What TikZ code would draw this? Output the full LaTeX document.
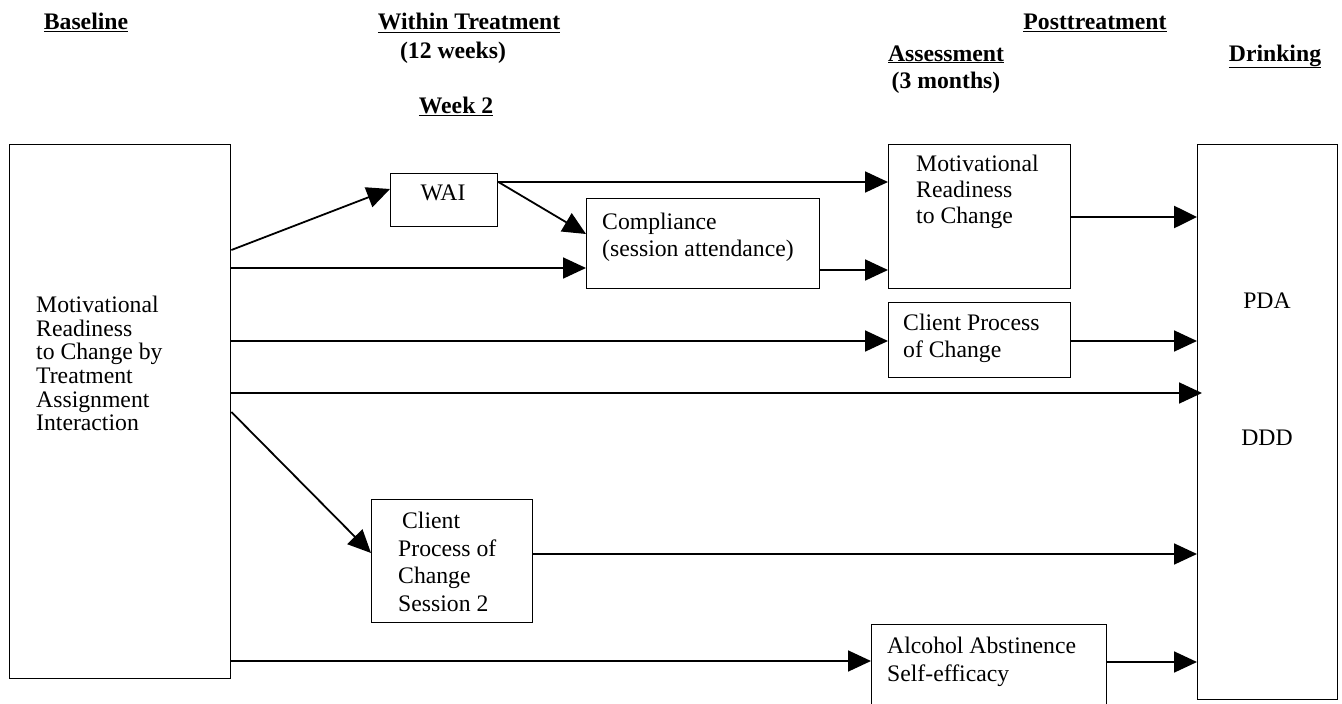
\documentclass[tikz,border=0pt]{standalone}
\usepackage{fontspec}
\setmainfont{Liberation Serif}
\usetikzlibrary{arrows.meta}

\begin{document}
\begin{tikzpicture}[x=1pt,y=-1pt,
  box/.style={draw, line width=1.4pt, anchor=north west, inner sep=0pt},
  body/.style={font=\fontsize{23.7}{27}\selectfont, inner sep=0pt, align=left, anchor=north west},
  head/.style={font=\bfseries\fontsize{23.7}{27}\selectfont, inner sep=0pt, anchor=base},
  conn/.style={line width=1.8pt, -{Triangle[length=23pt,width=21pt]}},
]
\useasboundingbox (0,0) rectangle (1342,704);
\clip (0,0) rectangle (1342,704);

% column headings
\node[head] (hBase)   at (86,30)    {\underline{Baseline}};
\node[head] (hWithin) at (469,30)   {\underline{Within Treatment}};
\node[head] (hWeeks)  at (453,58)   {(12 weeks)};
\node[head] (hWeek)   at (456,113)  {\underline{Week 2}};
\node[head] (hPost)   at (1095,30)  {\underline{Posttreatment}};
\node[head] (hAssess) at (946,61)   {\underline{Assessment}};
\node[head] (hMonths) at (946,88)   {(3 months)};
\node[head] (hDrink)  at (1275,61)  {\underline{Drinking}};

% boxes
\node[box, minimum width=221pt, minimum height=534pt] (L)     at (9,144)   {};
\node[box, minimum width=107pt, minimum height=53pt]  (wai)   at (390,173) {};
\node[box, minimum width=233pt, minimum height=90pt]  (comp)  at (586,198) {};
\node[box, minimum width=182pt, minimum height=144pt] (mot)   at (888,144) {};
\node[box, minimum width=182pt, minimum height=75pt]  (cpc)   at (888,302) {};
\node[box, minimum width=161pt, minimum height=123pt] (s2)    at (371,499) {};
\node[box, minimum width=235pt, minimum height=120pt] (alc)   at (871,624) {};
\node[box, minimum width=140pt, minimum height=555pt] (drink) at (1197,144) {};

% box texts
\node[body, font=\fontsize{23.7}{23.6}\selectfont] (Ltxt) at (36,296)
  {Motivational\\Readiness\\to Change by\\Treatment\\Assignment\\Interaction};
\node[body, anchor=base] (waiT) at (443,200) {WAI};
\node[body] (compT) at (602,213) {Compliance\\(session attendance)};
\node[body, font=\fontsize{23.7}{26}\selectfont] (motT) at (916,155) {Motivational\\Readiness\\to Change};
\node[body] (cpcT) at (903,314) {Client Process\\of Change};
\node[body, font=\fontsize{23.7}{27.6}\selectfont] (s2T) at (398,512) {\,Client\\Process of\\Change\\Session 2};
\node[body, font=\fontsize{23.7}{28}\selectfont] (alcT) at (887,637) {Alcohol Abstinence\\Self-efficacy};
\node[body, anchor=base] (pda) at (1267,308) {PDA};
\node[body, anchor=base] (ddd) at (1267,445) {DDD};

% paths
\draw[conn] (L.east |- 0,250) -- (wai.west |- 0,189);
\draw[conn] (L.east |- 0,268) -- (comp.west |- 0,268);
\draw[conn] (wai.east |- 0,182) -- (mot.west |- 0,182);
\draw[conn] (wai.east |- 0,182) -- (comp.west |- 0,234);
\draw[conn] (comp.east |- 0,270) -- (mot.west |- 0,270);
\draw[conn, line width=2.6pt, -{Triangle[length=23pt,width=22pt]}] (mot.east |- 0,217) -- (drink.west |- 0,217);
\draw[conn] (L.east |- 0,341) -- (cpc.west |- 0,341);
\draw[conn] (cpc.east |- 0,341) -- (drink.west |- 0,341);
\draw[conn, shorten >=-5pt] (L.east |- 0,393) -- (drink.west |- 0,393);
\draw[conn] (L.east |- 0,412) -- (s2.west |- 0,553);
\draw[conn] (s2.east |- 0,554) -- (drink.west |- 0,554);
\draw[conn] (L.east |- 0,661) -- (alc.west |- 0,661);
\draw[conn] (alc.east |- 0,662) -- (drink.west |- 0,662);
\end{tikzpicture}
\end{document}
